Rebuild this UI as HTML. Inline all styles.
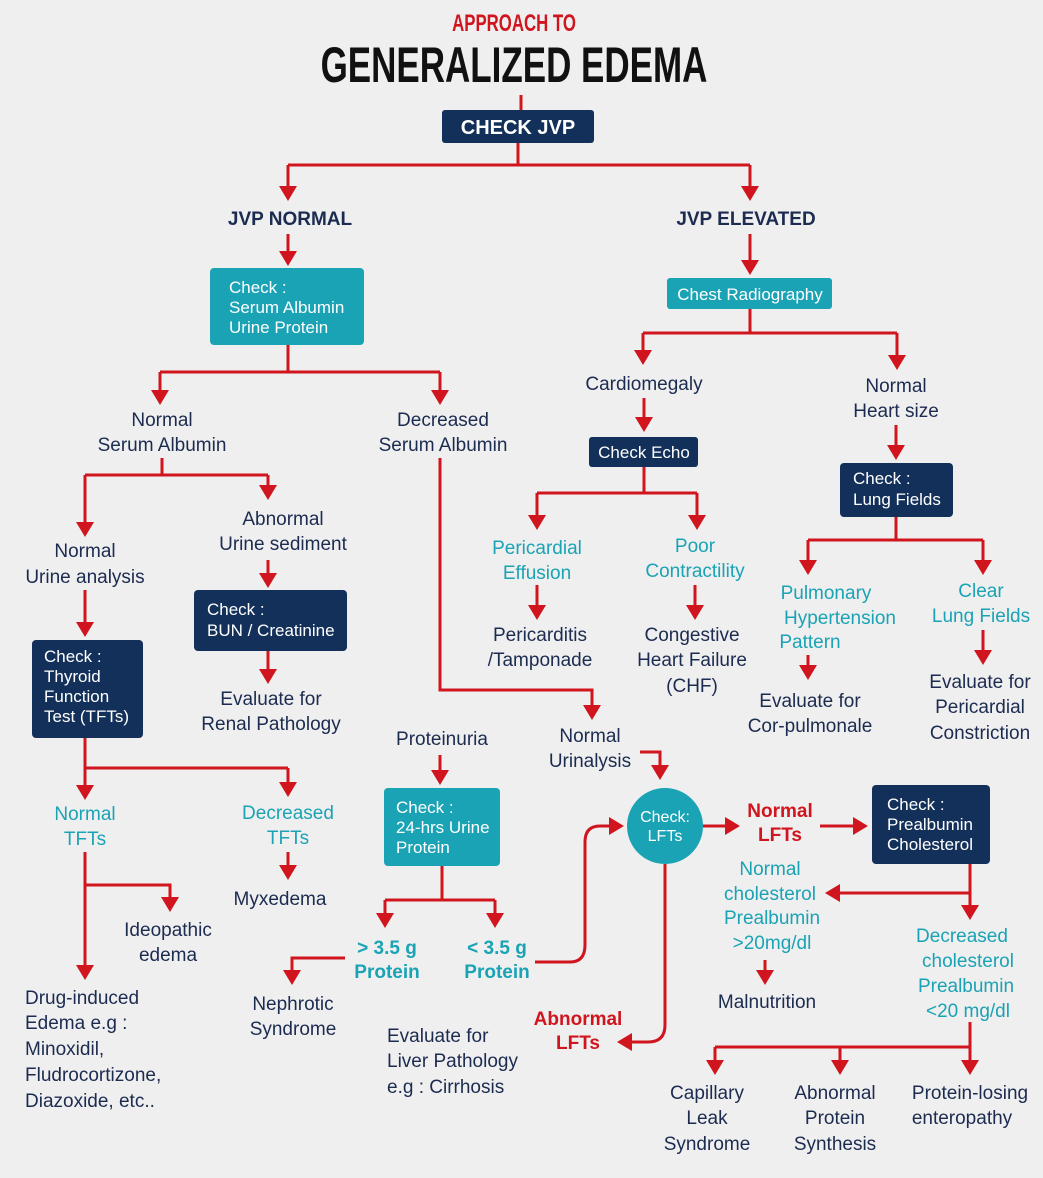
<!DOCTYPE html>
<html><head><meta charset="utf-8"><style>
html,body{margin:0;padding:0;background:#efefef;}
svg{display:block;}
text{font-family:"Liberation Sans",sans-serif;}
.n{fill:#1c2b50;font-size:19px;text-anchor:middle;}
.t{fill:#1aa3b5;font-size:19px;text-anchor:middle;}
.tb{fill:#1aa3b5;font-size:19px;text-anchor:middle;font-weight:bold;}
.r{fill:#d0151e;font-size:19px;text-anchor:middle;font-weight:bold;}
.w{fill:#fff;font-size:17px;}
.h{fill:#1c2b50;font-size:19px;font-weight:bold;text-anchor:middle;}
.l{fill:none;stroke:#d0151e;stroke-width:3;}
</style></head><body>
<svg width="1043" height="1178" viewBox="0 0 1043 1178" xmlns="http://www.w3.org/2000/svg">
<defs><marker id="a" markerWidth="6" markerHeight="6" refX="4" refY="3" orient="auto" markerUnits="strokeWidth"><path d="M0,0 L5,3 L0,6 z" fill="#d0151e"/></marker></defs>
<rect width="1043" height="1178" fill="#efefef"/>
<g transform="translate(514,0) scale(0.7,1)"><text x="0" y="31" text-anchor="middle" font-size="24" font-weight="bold" fill="#d0151e">APPROACH TO</text>
<text x="0" y="82" text-anchor="middle" font-size="50" font-weight="bold" fill="#111">GENERALIZED EDEMA</text></g>
<g class="l">
<path d="M521,95 V110"/>
<path d="M518,143 V165 M288,165 H750"/>
<path d="M288,165 V198" marker-end="url(#a)"/><path d="M750,165 V198" marker-end="url(#a)"/>
<path d="M288,234 V263" marker-end="url(#a)"/>
<path d="M288,345 V372 M160,372 H440"/>
<path d="M160,372 V402" marker-end="url(#a)"/><path d="M440,372 V402" marker-end="url(#a)"/>
<path d="M162,458 V475 M85,475 H268"/>
<path d="M85,475 V534" marker-end="url(#a)"/><path d="M268,475 V497" marker-end="url(#a)"/>
<path d="M268,560 V585" marker-end="url(#a)"/>
<path d="M268,651 V681" marker-end="url(#a)"/>
<path d="M85,590 V634" marker-end="url(#a)"/>
<path d="M85,738 V768 H288"/>
<path d="M85,768 V797" marker-end="url(#a)"/><path d="M288,768 V794" marker-end="url(#a)"/>
<path d="M288,852 V877" marker-end="url(#a)"/>
<path d="M85,852 V977" marker-end="url(#a)"/>
<path d="M85,885 H170 V909" marker-end="url(#a)"/>
<path d="M440,458 V690 H592 V717" marker-end="url(#a)"/>
<path d="M440,755 V782" marker-end="url(#a)"/>
<path d="M640,752 H660 V777" marker-end="url(#a)"/>
<path d="M442,866 V900 H495 M385,900 H442"/>
<path d="M385,900 V925" marker-end="url(#a)"/><path d="M495,900 V925" marker-end="url(#a)"/>
<path d="M345,958 H292 V982" marker-end="url(#a)"/>
<path d="M535,962 H570 Q585,962 585,945 V842 Q585,826 600,826 H621" marker-end="url(#a)"/>
<path d="M665,864 V1025 Q665,1042 648,1042 H620" marker-end="url(#a)"/>
<path d="M703,826 H737" marker-end="url(#a)"/>
<path d="M820,826 H865" marker-end="url(#a)"/>
<path d="M970,864 V917" marker-end="url(#a)"/>
<path d="M970,893 H828" marker-end="url(#a)"/>
<path d="M765,960 V982" marker-end="url(#a)"/>
<path d="M970,1022 V1047 H715"/>
<path d="M715,1047 V1072" marker-end="url(#a)"/><path d="M840,1047 V1072" marker-end="url(#a)"/><path d="M970,1047 V1072" marker-end="url(#a)"/>
<path d="M750,234 V272" marker-end="url(#a)"/>
<path d="M750,309 V333 M643,333 H897"/>
<path d="M643,333 V362" marker-end="url(#a)"/><path d="M897,333 V367" marker-end="url(#a)"/>
<path d="M644,398 V429" marker-end="url(#a)"/>
<path d="M644,467 V493 M537,493 H697"/>
<path d="M537,493 V527" marker-end="url(#a)"/><path d="M697,493 V527" marker-end="url(#a)"/>
<path d="M537,585 V617" marker-end="url(#a)"/><path d="M695,585 V617" marker-end="url(#a)"/>
<path d="M896,425 V457" marker-end="url(#a)"/>
<path d="M896,517 V540 M808,540 H983"/>
<path d="M808,540 V572" marker-end="url(#a)"/><path d="M983,540 V572" marker-end="url(#a)"/>
<path d="M808,655 V677" marker-end="url(#a)"/><path d="M983,630 V662" marker-end="url(#a)"/>
</g>
<rect x="442" y="110" width="152" height="33" rx="3" fill="#13305a"/>
<text x="518" y="134" text-anchor="middle" font-size="20" font-weight="bold" fill="#fff">CHECK JVP</text>
<text class="h" x="290" y="225">JVP NORMAL</text>
<text class="h" x="746" y="225">JVP ELEVATED</text>
<rect x="210" y="268" width="154" height="77" rx="4" fill="#1aa3b5"/>
<text class="w" x="229" y="293">Check :</text><text class="w" x="229" y="313">Serum Albumin</text><text class="w" x="229" y="333">Urine Protein</text>
<text class="n" x="162" y="426">Normal</text><text class="n" x="162" y="451">Serum Albumin</text>
<text class="n" x="443" y="426">Decreased</text><text class="n" x="443" y="451">Serum Albumin</text>
<text class="n" x="283" y="525">Abnormal</text><text class="n" x="283" y="550">Urine sediment</text>
<text class="n" x="85" y="557">Normal</text><text class="n" x="85" y="583">Urine analysis</text>
<rect x="194" y="590" width="153" height="61" rx="4" fill="#13305a"/>
<text class="w" x="207" y="615">Check :</text><text class="w" x="207" y="636">BUN / Creatinine</text>
<text class="n" x="271" y="705">Evaluate for</text><text class="n" x="271" y="730">Renal Pathology</text>
<rect x="32" y="640" width="111" height="98" rx="4" fill="#13305a"/>
<text class="w" x="44" y="662">Check :</text><text class="w" x="44" y="682">Thyroid</text><text class="w" x="44" y="702">Function</text><text class="w" x="44" y="722">Test (TFTs)</text>
<text class="t" x="85" y="820">Normal</text><text class="t" x="85" y="845">TFTs</text>
<text class="t" x="288" y="819">Decreased</text><text class="t" x="288" y="844">TFTs</text>
<text class="n" x="280" y="905">Myxedema</text>
<text class="n" x="168" y="936">Ideopathic</text><text class="n" x="168" y="961">edema</text>
<text class="n" x="25" y="1004" style="text-anchor:start">Drug-induced</text><text class="n" x="25" y="1029" style="text-anchor:start">Edema e.g :</text><text class="n" x="25" y="1055" style="text-anchor:start">Minoxidil,</text><text class="n" x="25" y="1081" style="text-anchor:start">Fludrocortizone,</text><text class="n" x="25" y="1107" style="text-anchor:start">Diazoxide, etc..</text>
<text class="n" x="442" y="745">Proteinuria</text>
<text class="n" x="590" y="742">Normal</text><text class="n" x="590" y="767">Urinalysis</text>
<rect x="384" y="788" width="116" height="78" rx="4" fill="#1aa3b5"/>
<text class="w" x="396" y="813">Check :</text><text class="w" x="396" y="833">24-hrs Urine</text><text class="w" x="396" y="853">Protein</text>
<text class="tb" x="387" y="954">&gt; 3.5 g</text><text class="tb" x="387" y="978">Protein</text>
<text class="tb" x="497" y="954">&lt; 3.5 g</text><text class="tb" x="497" y="978">Protein</text>
<text class="n" x="293" y="1010">Nephrotic</text><text class="n" x="293" y="1035">Syndrome</text>
<circle cx="665" cy="826" r="38" fill="#1aa3b5"/>
<text x="665" y="822" text-anchor="middle" font-size="16" fill="#fff">Check:</text><text x="665" y="841" text-anchor="middle" font-size="16" fill="#fff">LFTs</text>
<text class="r" x="578" y="1025">Abnormal</text><text class="r" x="578" y="1049">LFTs</text>
<text class="n" x="387" y="1042" style="text-anchor:start">Evaluate for</text><text class="n" x="387" y="1067" style="text-anchor:start">Liver Pathology</text><text class="n" x="387" y="1093" style="text-anchor:start">e.g : Cirrhosis</text>
<text class="r" x="780" y="817">Normal</text><text class="r" x="780" y="841">LFTs</text>
<rect x="872" y="785" width="118" height="79" rx="4" fill="#13305a"/>
<text class="w" x="887" y="810">Check :</text><text class="w" x="887" y="830">Prealbumin</text><text class="w" x="887" y="850">Cholesterol</text>
<text class="t" x="770" y="875">Normal</text><text class="t" x="770" y="900">cholesterol</text><text class="t" x="772" y="924">Prealbumin</text><text class="t" x="772" y="949">&gt;20mg/dl</text>
<text class="n" x="767" y="1008">Malnutrition</text>
<text class="t" x="962" y="942">Decreased</text><text class="t" x="968" y="967">cholesterol</text><text class="t" x="966" y="992">Prealbumin</text><text class="t" x="968" y="1017">&lt;20 mg/dl</text>
<text class="n" x="707" y="1099">Capillary</text><text class="n" x="707" y="1124">Leak</text><text class="n" x="707" y="1150">Syndrome</text>
<text class="n" x="835" y="1099">Abnormal</text><text class="n" x="835" y="1124">Protein</text><text class="n" x="835" y="1150">Synthesis</text>
<text class="n" x="970" y="1099">Protein-losing</text><text class="n" x="962" y="1124">enteropathy</text>
<rect x="667" y="278" width="165" height="31" rx="3" fill="#1aa3b5"/>
<text x="750" y="300" text-anchor="middle" font-size="17" fill="#fff">Chest Radiography</text>
<text class="n" x="644" y="390">Cardiomegaly</text>
<text class="n" x="896" y="392">Normal</text><text class="n" x="896" y="417">Heart size</text>
<rect x="589" y="437" width="109" height="30" rx="3" fill="#13305a"/>
<text x="644" y="458" text-anchor="middle" font-size="17" fill="#fff">Check Echo</text>
<text class="t" x="537" y="554">Pericardial</text><text class="t" x="537" y="579">Effusion</text>
<text class="t" x="695" y="552">Poor</text><text class="t" x="695" y="577">Contractility</text>
<text class="n" x="540" y="641">Pericarditis</text><text class="n" x="540" y="666">/Tamponade</text>
<text class="n" x="692" y="641">Congestive</text><text class="n" x="692" y="666">Heart Failure</text><text class="n" x="692" y="692">(CHF)</text>
<rect x="840" y="463" width="113" height="54" rx="4" fill="#13305a"/>
<text class="w" x="853" y="484">Check :</text><text class="w" x="853" y="505">Lung Fields</text>
<text class="t" x="826" y="599">Pulmonary</text><text class="t" x="840" y="624">Hypertension</text><text class="t" x="810" y="648">Pattern</text>
<text class="t" x="981" y="597">Clear</text><text class="t" x="981" y="622">Lung Fields</text>
<text class="n" x="810" y="707">Evaluate for</text><text class="n" x="810" y="732">Cor-pulmonale</text>
<text class="n" x="980" y="688">Evaluate for</text><text class="n" x="980" y="713">Pericardial</text><text class="n" x="980" y="739">Constriction</text>
</svg>
</body></html>
